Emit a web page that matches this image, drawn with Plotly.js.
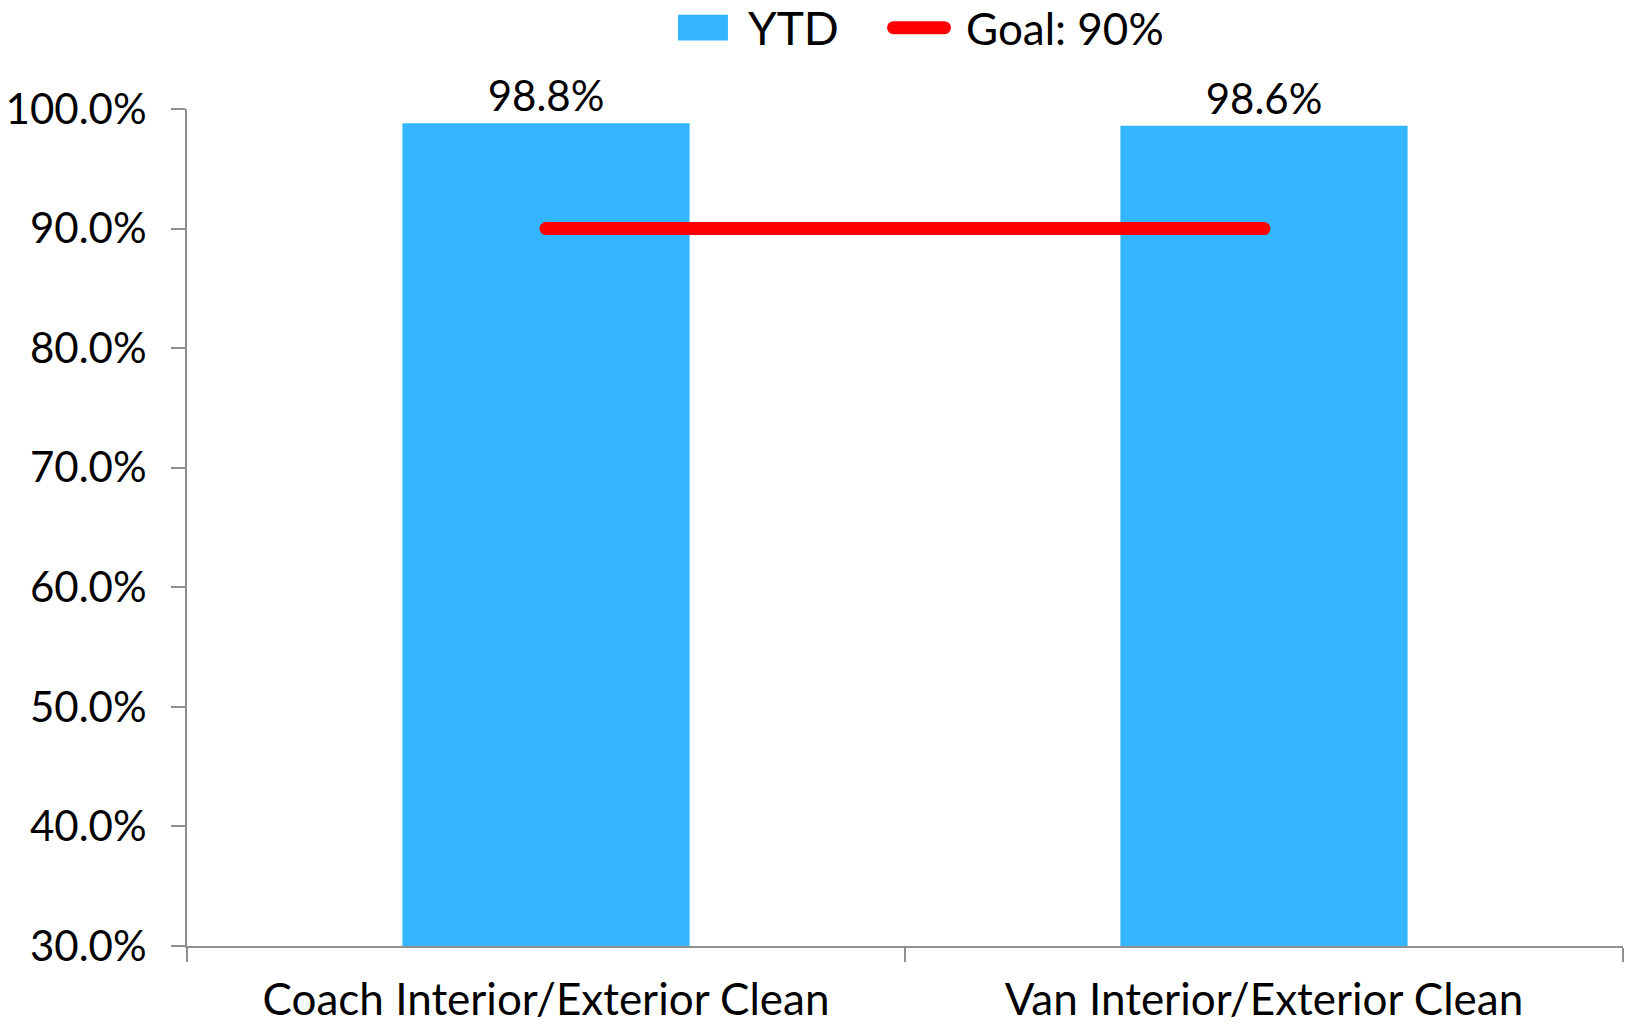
<!DOCTYPE html>
<html>
<head>
<meta charset="utf-8">
<script src="https://cdn.plot.ly/plotly-3.0.1.min.js"></script>
<style>
  html, body { margin: 0; padding: 0; background: #fff; }
  #chart { width: 1627px; height: 1026px; }
  .scatterlayer .js-line { stroke-linecap: round; }
  .shapelayer path { stroke-linecap: round; }
</style>
</head>
<body>
<div id="chart"></div>
<script>
// ---- data ----
const categories = ["Coach Interior/Exterior Clean", "Van Interior/Exterior Clean"];
const ytdValues = [98.8, 98.6];
const goalValues = [90, 90];
const seriesNames = ["YTD", "Goal: 90%"];
const yTickValues = [30, 40, 50, 60, 70, 80, 90, 100];
const yTickLabels = ["30.0%", "40.0%", "50.0%", "60.0%", "70.0%", "80.0%", "90.0%", "100.0%"];

// ---- style ----
const FONT = "Lato, 'Open Sans', sans-serif";
const BAR_COLOR = "#33b5ff";
const GOAL_COLOR = "#ff0000";
const AXIS_COLOR = "#8f8f8f";

const traces = [
  {
    type: "bar",
    name: seriesNames[0],
    x: categories,
    y: ytdValues,
    width: 0.4,
    marker: { color: BAR_COLOR, line: { width: 0 } },
    texttemplate: "%{y:.1f}%",
    textposition: "outside",
    constraintext: "none",
    cliponaxis: false,
    textfont: { family: FONT, size: 42, color: "#000" },
    showlegend: false,
    hoverinfo: "skip"
  },
  {
    type: "scatter",
    mode: "lines",
    name: seriesNames[1],
    x: categories,
    y: goalValues,
    line: { color: GOAL_COLOR, width: 13 },
    showlegend: false,
    hoverinfo: "skip"
  }
];

// custom legend (paper coordinates)
const legendY = 1.0972;
const layout = {
  width: 1627,
  height: 1026,
  margin: { l: 187, r: 4, t: 109, b: 80, pad: 0 },
  paper_bgcolor: "#ffffff",
  plot_bgcolor: "#ffffff",
  font: { family: FONT, size: 44, color: "#000" },
  showlegend: false,
  xaxis: {
    type: "category",
    showgrid: false,
    zeroline: false,
    showline: true,
    linecolor: AXIS_COLOR,
    linewidth: 2,
    ticks: "outside",
    tickson: "boundaries",
    ticklen: 14,
    tickwidth: 2,
    tickcolor: AXIS_COLOR,
    ticklabelstandoff: 14,
    tickfont: { family: FONT, size: 44, color: "#000" }
  },
  yaxis: {
    range: [30, 100],
    tickmode: "array",
    tickvals: yTickValues,
    ticktext: yTickLabels,
    showgrid: false,
    zeroline: false,
    showline: true,
    linecolor: AXIS_COLOR,
    linewidth: 2,
    ticks: "outside",
    ticklen: 14,
    tickwidth: 2,
    tickcolor: AXIS_COLOR,
    ticklabelstandoff: 16,
    tickfont: { family: FONT, size: 42, color: "#000" }
  },
  shapes: [
    { type: "rect", xref: "paper", yref: "paper",
      x0: 0.3419, x1: 0.3767, y0: 1.0817, y1: 1.1127,
      fillcolor: BAR_COLOR, line: { width: 0 } },
    { type: "line", xref: "paper", yref: "paper",
      x0: 0.4920, x1: 0.5275, y0: legendY, y1: legendY,
      line: { color: GOAL_COLOR, width: 13 } }
  ],
  annotations: [
    { xref: "paper", yref: "paper", x: 0.3893, y: legendY, xanchor: "left", yanchor: "middle",
      text: seriesNames[0], showarrow: false, font: { family: FONT, size: 46, color: "#000" } },
    { xref: "paper", yref: "paper", x: 0.5410, y: legendY, xanchor: "left", yanchor: "middle",
      text: seriesNames[1], showarrow: false, font: { family: FONT, size: 44, color: "#000" } }
  ]
};

Plotly.newPlot("chart", traces, layout, { displayModeBar: false, staticPlot: true });
</script>
</body>
</html>
